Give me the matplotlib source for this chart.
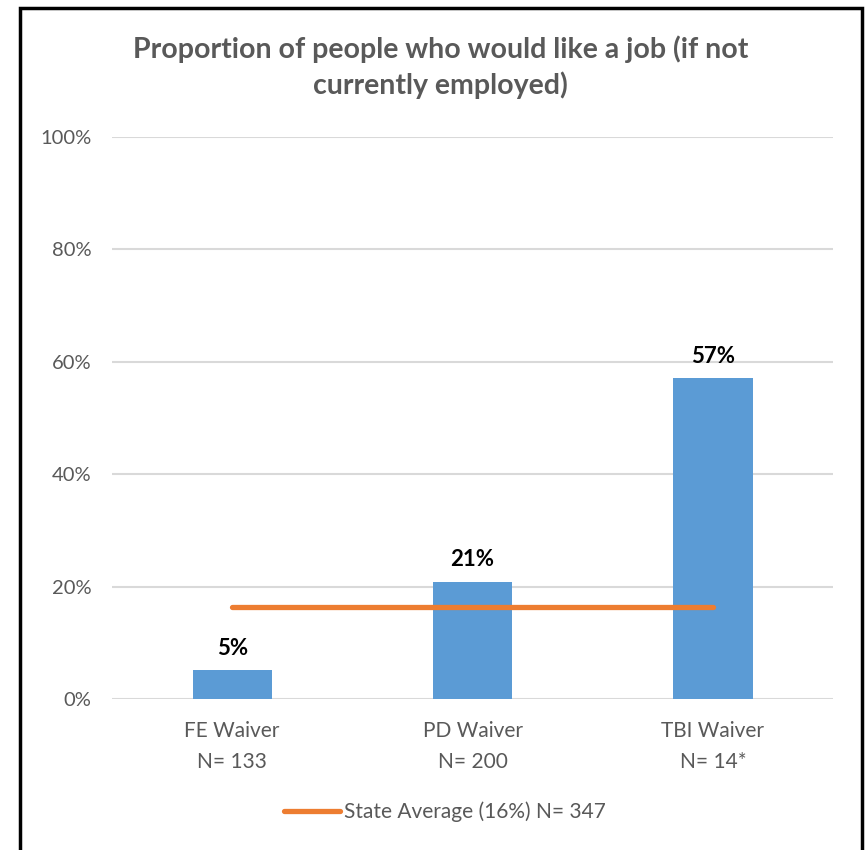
import matplotlib

matplotlib.use("Agg")
import matplotlib.pyplot as plt
from matplotlib.patches import Rectangle

# data
categories = ["FE Waiver\nN= 133", "PD Waiver\nN= 200", "TBI Waiver\nN= 14*"]
values = [5.2, 20.9, 57.1]
value_labels = ["5%", "21%", "57%"]
state_average = 16.3
legend_label = "State Average (16%) N= 347"
title = "Proportion of people who would like a job (if not\ncurrently employed)"
y_ticks = [0, 20, 40, 60, 80, 100]

BLUE = "#5B9BD5"
ORANGE = "#ED7D31"
GRAY_TEXT = "#595959"
GRID = "#D9D9D9"

plt.rcParams["font.family"] = ["Lato", "DejaVu Sans"]

fig = plt.figure(figsize=(8.67, 8.5), dpi=100)
ax = fig.add_axes([0.1292, 0.1776, 0.8316, 0.6612])

x = list(range(len(categories)))
ax.bar(x, values, width=0.33, color=BLUE, zorder=2)
for xi, v, lab in zip(x, values, value_labels):
    ax.annotate(lab, (xi, v), xytext=(0, 8), textcoords="offset points",
                ha="center", va="bottom", fontsize=16, fontweight="bold",
                color="black")

avg_line, = ax.plot([x[0], x[-1]], [state_average, state_average], color=ORANGE,
                    linewidth=3.8, solid_capstyle="round", zorder=3,
                    label=legend_label)

ax.set_xlim(-0.5, len(categories) - 0.5)
ax.set_ylim(0, 100)
ax.set_yticks(y_ticks)
ax.set_yticklabels([f"{t}%" for t in y_ticks])
ax.set_xticks(x)
ax.set_xticklabels(categories, linespacing=1.65)
ax.tick_params(axis="both", length=0, labelsize=14.5, labelcolor=GRAY_TEXT)
ax.tick_params(axis="y", pad=15)
ax.tick_params(axis="x", labelsize=15, pad=16)
ax.grid(axis="y", color=GRID, linewidth=1.5, zorder=0)
ax.set_axisbelow(True)
for side in ax.spines:
    ax.spines[side].set_visible(False)

fig.text(0.508, 0.921, title, ha="center", va="center", fontsize=20.5,
         fontweight="bold", color=GRAY_TEXT, linespacing=1.35)

fig.legend(handles=[avg_line], loc="center", bbox_to_anchor=(0.513, 0.045),
           frameon=False, fontsize=15, labelcolor=GRAY_TEXT, handlelength=2.7,
           handletextpad=0.15)

# black border round the chart area
fig.patches.append(Rectangle((0.023, -0.05), 0.971, 1.041, transform=fig.transFigure,
                             fill=False, edgecolor="black", linewidth=2.5))

fig.savefig("out.png", dpi=100)
